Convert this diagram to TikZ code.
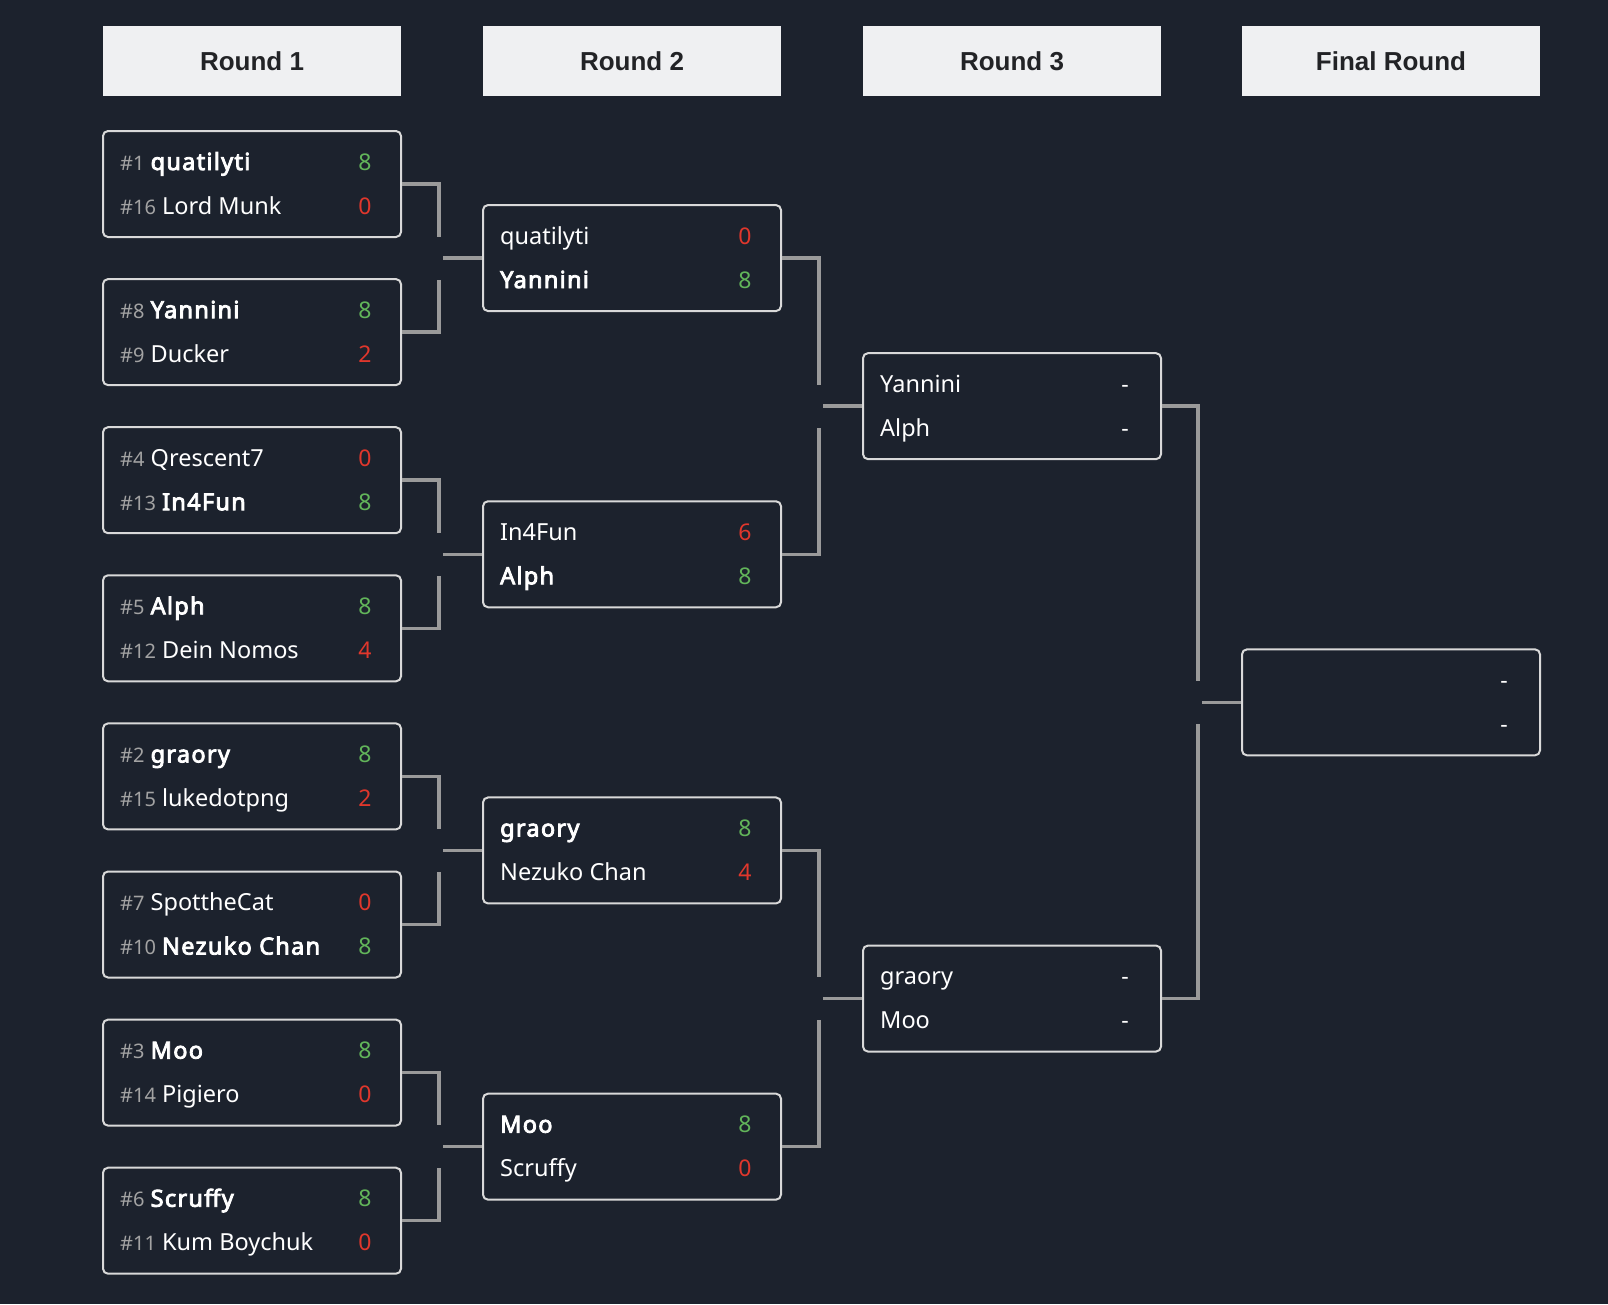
\documentclass[tikz,border=0pt]{standalone}
\usepackage{fontspec}
\setmainfont{Noto Sans}
\newfontfamily\nameboldfont{Noto Sans}[FakeBold=3.6, LetterSpace=5.5]
\newfontfamily\hdrfont{Liberation Sans}
\usetikzlibrary{calc}
\definecolor{bg}{HTML}{1C222D}
\definecolor{hdrfill}{HTML}{EFF0F2}
\definecolor{hdrtext}{HTML}{222326}
\definecolor{boxline}{HTML}{D9D9D9}
\definecolor{connline}{HTML}{9A9A9A}
\definecolor{seedgray}{HTML}{A3A3A3}
\definecolor{wingreen}{HTML}{62B55A}
\definecolor{losered}{HTML}{E0372C}
\newcommand\sd[1]{{\fontsize{20}{22}\selectfont\color{seedgray}\##1}}
\newcommand\bn[1]{{\nameboldfont #1}}
\newcommand\wn[1]{\color{wingreen}#1}
\newcommand\ls[1]{\color{losered}#1}
\tikzset{
  hdr/.style={fill=hdrfill, minimum width=298pt, minimum height=70pt, inner sep=0pt,
    text=hdrtext, font=\hdrfont\bfseries\fontsize{26}{30}\selectfont},
  mbox/.style={draw=boxline, line width=2pt, rounded corners=5pt, fill=bg,
    minimum width=298pt, minimum height=106pt, inner sep=0pt},
  rowtxt/.style={anchor=base west, inner sep=0pt, text=white, font=\fontsize{23.5}{26}\selectfont},
  scoretxt/.style={anchor=base, inner sep=0pt, text=white, font=\fontsize{23}{26}\selectfont},
  conn/.style={draw=connline, line width=3.5pt},
}
\newcommand\matchbox[7]{%
  \node[mbox] (#1) at (#2+149,#3) {};
  \node[rowtxt] (#1-a) at (#2+17,#3-22+8) {#4};
  \node[scoretxt] (#1-sa) at (#2+262,#3-22+8) {#5};
  \node[rowtxt] (#1-b) at (#2+17,#3+22+8) {#6};
  \node[scoretxt] (#1-sb) at (#2+262,#3+22+8) {#7};
}
\newcommand\joinup[3]{%
  \draw[conn] (#1.east) -| ($(#3.west)+(-43,-21.5)$);
  \draw[conn] (#2.east) -| ($(#3.west)+(-43,21.5)$);
  \draw[conn] ($(#3.west)+(-39,0)$) -- (#3.west);
}
\begin{document}
\begin{tikzpicture}[x=1pt,y=-1pt]
\useasboundingbox (0,0) rectangle (1608,1304);
\fill[bg] (0,0) rectangle (1608,1304);

\node[hdr] (h1) at (252,61) {Round 1};
\node[hdr] (h2) at (632,61) {Round 2};
\node[hdr] (h3) at (1012,61) {Round 3};
\node[hdr] (h4) at (1391,61) {Final Round};

% Round 1
\matchbox{a1}{103}{184.0}{\sd{1} \bn{quatilyti}}{\wn{8}}{\sd{16} Lord Munk}{\ls{0}}
\matchbox{a2}{103}{332.1}{\sd{8} \bn{Yannini}}{\wn{8}}{\sd{9} Ducker}{\ls{2}}
\matchbox{a3}{103}{480.2}{\sd{4} Qrescent7}{\ls{0}}{\sd{13} \bn{In4Fun}}{\wn{8}}
\matchbox{a4}{103}{628.3}{\sd{5} \bn{Alph}}{\wn{8}}{\sd{12} Dein Nomos}{\ls{4}}
\matchbox{a5}{103}{776.4}{\sd{2} \bn{graory}}{\wn{8}}{\sd{15} lukedotpng}{\ls{2}}
\matchbox{a6}{103}{924.5}{\sd{7} SpottheCat}{\ls{0}}{\sd{10} \bn{Nezuko Chan}}{\wn{8}}
\matchbox{a7}{103}{1072.6}{\sd{3} \bn{Moo}}{\wn{8}}{\sd{14} Pigiero}{\ls{0}}
\matchbox{a8}{103}{1220.7}{\sd{6} \bn{Scruffy}}{\wn{8}}{\sd{11} Kum Boychuk}{\ls{0}}

% Round 2
\matchbox{b1}{483}{258.05}{quatilyti}{\ls{0}}{\bn{Yannini}}{\wn{8}}
\matchbox{b2}{483}{554.25}{In4Fun}{\ls{6}}{\bn{Alph}}{\wn{8}}
\matchbox{b3}{483}{850.45}{\bn{graory}}{\wn{8}}{Nezuko Chan}{\ls{4}}
\matchbox{b4}{483}{1146.65}{\bn{Moo}}{\wn{8}}{Scruffy}{\ls{0}}

% Round 3
\matchbox{c1}{863}{406.15}{Yannini}{-}{Alph}{-}
\matchbox{c2}{863}{998.55}{graory}{-}{Moo}{-}

% Final
\matchbox{d1}{1242}{702.35}{}{-}{}{-}

% Connectors
\joinup{a1}{a2}{b1}
\joinup{a3}{a4}{b2}
\joinup{a5}{a6}{b3}
\joinup{a7}{a8}{b4}
\joinup{b1}{b2}{c1}
\joinup{b3}{b4}{c2}
\joinup{c1}{c2}{d1}
\end{tikzpicture}
\end{document}
